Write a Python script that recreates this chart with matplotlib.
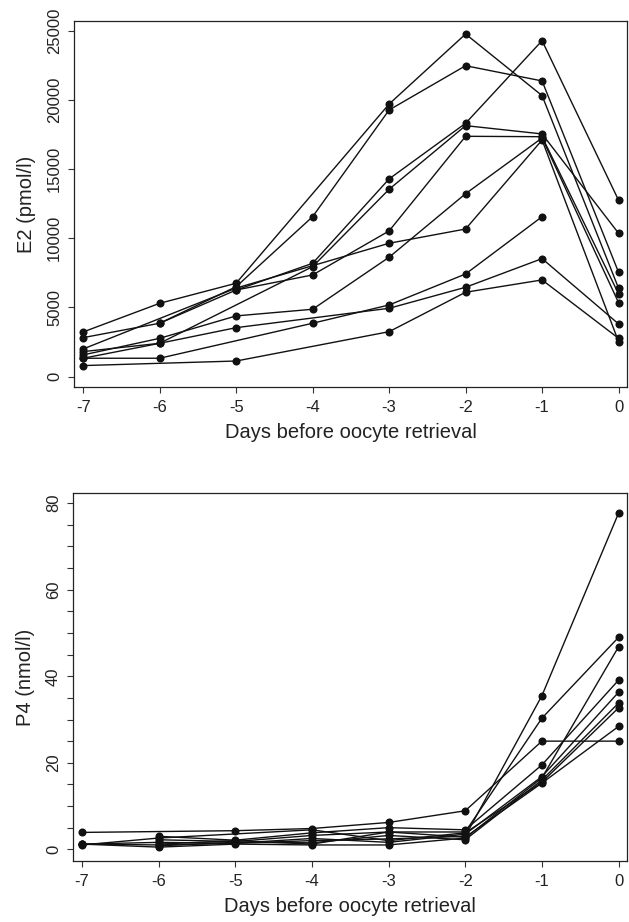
import numpy as np
import matplotlib
matplotlib.use("Agg")
import matplotlib.pyplot as plt

plt.rcParams['font.family'] = ['Liberation Sans', 'DejaVu Sans']

nan = np.nan
days = [-7, -6, -5, -4, -3, -2, -1, 0]

# E2 (pmol/l), one list per patient, days -7 .. 0
e2_series = [
    [3230, 5300, 6750, nan, 19700, 24760, 20310, 6390],
    [2820, 3860, 6500, 11560, 19270, 22470, 21370, 7540],
    [nan, 3860, 6260, 8190, 14290, 18310, 24280, 12750],
    [1810, 2410, nan, 7950, 13540, 18140, 17540, 10360],
    [nan, nan, 6260, 7350, 10530, 17370, 17340, 5980],
    [2000, nan, 6400, nan, 9640, 10670, 17100, 2530],
    [1570, 2770, 4390, 4870, 8630, 13220, 17250, 5350],
    [1330, 1330, nan, 3860, 5180, 7420, 11560, nan],
    [1330, 2410, 3540, nan, 4940, 6460, 8530, 3810],
    [800, nan, 1130, nan, 3250, 6100, 6990, 2770],
]

# P4 (nmol/l), days -7 .. 0
p4_series = [
    [1.2, 1.0, 1.4, 2.0, 2.4, 3.0, 35.5, 77.7],
    [nan, 2.2, 1.8, 3.2, 4.0, 4.0, 30.3, 49.0],
    [3.9, nan, 4.3, 4.8, 6.2, 8.9, 25.0, 25.0],
    [1.2, 0.5, 1.2, 1.0, 1.0, 2.6, 16.5, 46.8],
    [nan, 3.0, 2.1, 3.8, 5.0, 4.5, 19.5, 39.1],
    [1.2, 1.6, 1.4, 2.5, 1.6, 3.5, 16.8, 36.3],
    [nan, 0.8, 1.6, 1.5, 3.2, 2.2, 16.0, 33.8],
    [1.0, 2.6, nan, 4.5, 2.0, 3.8, 15.5, 32.7],
    [nan, 1.2, 2.0, 1.2, 4.0, 2.8, 15.3, 28.4],
]

xlabel = 'Days before oocyte retrieval'


def draw_panel(ax, series, ylabel, yticks, ylim, minor=None):
    x = np.array(days, dtype=float)
    for s in series:
        y = np.array(s, dtype=float)
        ok = ~np.isnan(y)
        ax.plot(x[ok], y[ok], color='#111111', lw=1.0, marker='o',
                markersize=5.8, markerfacecolor='#111111', markeredgewidth=0)
    ax.set_xlim(-7.12, 0.11)
    ax.set_ylim(*ylim)
    ax.set_xticks(days)
    ax.set_xticklabels([str(d) for d in days])
    ax.set_yticks(yticks)
    ax.set_yticklabels([str(t) for t in yticks], rotation=90, va='center')
    if minor is not None:
        ax.set_yticks(minor, minor=True)
        ax.tick_params(axis='y', which='minor', length=4.5, width=0.8,
                       color='#333333')
    ax.tick_params(axis='both', which='major', length=4.5, width=0.8,
                   labelsize=12, color='#333333', labelcolor='#222222')
    ax.tick_params(axis='x', pad=5)
    ax.tick_params(axis='y', pad=4)
    for sp in ax.spines.values():
        sp.set_linewidth(0.9)
        sp.set_color('#222222')
    ax.set_xlabel(xlabel, fontsize=14.5, color='#222222', labelpad=6)
    ax.set_ylabel(ylabel, fontsize=14.5, color='#222222', labelpad=8)


fig = plt.figure(figsize=(6.29, 9.22), dpi=100)
ax1 = fig.add_axes([0.1176, 0.5803, 0.9968 - 0.1176, 0.9772 - 0.5803])
ax2 = fig.add_axes([0.1156, 0.0662, 0.9968 - 0.1156, 0.465 - 0.0662])

draw_panel(ax1, e2_series, 'E2 (pmol/l)', [0, 5000, 10000, 15000, 20000, 25000],
           (-745, 25700))
draw_panel(ax2, p4_series, 'P4 (nmol/l)', [0, 20, 40, 60, 80], (-2.7, 82.3),
           minor=[v for v in range(5, 80, 5) if v % 20 != 0])

fig.savefig('out.png', dpi=100)
